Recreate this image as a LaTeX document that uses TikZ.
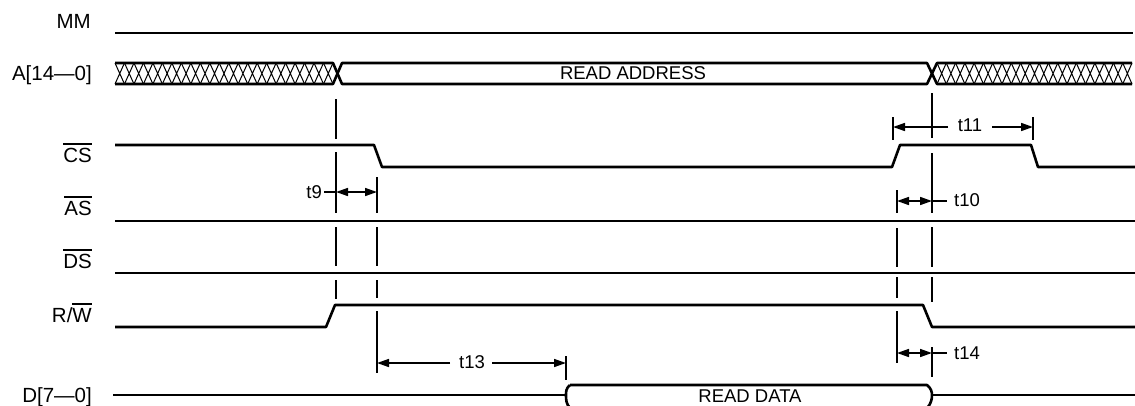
\documentclass[tikz,border=0pt]{standalone}
\usepackage{fontspec}
\setmainfont{Liberation Sans}
\usetikzlibrary{arrows.meta}
\newcommand\myovl[1]{\leavevmode\vbox{\hrule height 1.7pt \kern 3pt \hbox{#1}}}
\begin{document}
\begin{tikzpicture}[x=1pt,y=-1pt,
  sig/.style={line width=2.6pt, line join=round},
  hatchln/.style={line width=1pt},
  guide/.style={line width=1.9pt},
  dim/.style={line width=1.6pt},
  tipE/.style={-{Triangle[length=12pt,width=8pt]}},
  tipB/.style={{Triangle[length=12pt,width=8pt]}-{Triangle[length=12pt,width=8pt]}},
  lbl/.style={anchor=base east, inner sep=0pt, font=\fontsize{20.5}{23}\selectfont},
  txt/.style={inner sep=0pt, font=\fontsize{18.5}{21}\selectfont}]
\useasboundingbox (0,0) rectangle (1135,405);

% signal names
\node[lbl] (lMM) at (91,28) {MM};
\node[lbl] (lA)  at (92,80) {A[14—0]};
\node[lbl] (lCS) at (92,162) {\myovl{CS}};
\node[lbl] (lAS) at (92,215) {\myovl{AS}};
\node[lbl] (lDS) at (92,268) {\myovl{DS}};
\node[lbl] (lRW) at (92,322) {R/\myovl{W}};
\node[lbl] (lD)  at (92,402) {D[7—0]};

% MM
\draw[sig] (115,33) -- (1133,33);

% A bus
\foreach \i in {0,...,22} {
  \draw[hatchln] ({115+\i*9.478},63) -- ({115+(\i+1)*9.478},84)
                 ({115+\i*9.478},84) -- ({115+(\i+1)*9.478},63);
}
\foreach \i in {0,...,20} {
  \draw[hatchln] ({937+\i*9.286},63) -- ({937+(\i+1)*9.286},84)
                 ({937+\i*9.286},84) -- ({937+(\i+1)*9.286},63);
}
\draw[sig] (115,63) -- (333,63) -- (342,84) -- (927,84) -- (937,63) -- (1132,63);
\draw[sig] (115,84) -- (333,84) -- (342,63) -- (927,63) -- (937,84) -- (1132,84);
\node[txt] (rA) at (633,73) {READ ADDRESS};

% CS
\draw[sig] (115,145) -- (374,145) -- (382,167) -- (892,167) -- (900,145)
           -- (1031,145) -- (1038,167) -- (1135,167);
% AS, DS
\draw[sig] (115,221) -- (1135,221);
\draw[sig] (115,273) -- (1135,273);
% R/W
\draw[sig] (115,327) -- (326,327) -- (335,305) -- (923,305) -- (932,327) -- (1135,327);

% D bus
\draw[sig] (113,395) -- (566,395);
\draw[sig] (570,385) .. controls (566,388) and (566,392) .. (566,395)
           .. controls (566,399) and (566,404) .. (570,408);
\draw[sig] (570,385) -- (927,385) .. controls (931,388) and (932,392) .. (932,395)
           .. controls (932,399) and (931,404) .. (927,408);
\draw[sig] (932,395) -- (1135,395);
\node[txt] (rD) at (750,396) {READ DATA};

% guide lines
\draw[guide] (336,99)--(336,139) (336,152)--(336,213) (336,227)--(336,266) (336,280)--(336,299);
\draw[guide] (377,177)--(377,213) (377,227)--(377,266) (377,280)--(377,298) (377,311)--(377,373);
\draw[guide] (897,190)--(897,213) (897,228)--(897,267) (897,277)--(897,298) (897,311)--(897,363);
\draw[guide] (932,93)--(932,138) (932,153)--(932,213) (932,227)--(932,267) (932,277)--(932,302) (932,347)--(932,377);
\draw[guide] (893,117)--(893,140) (1033,117)--(1033,140);
\draw[guide] (566,356)--(566,380);

% t9
\node[txt, anchor=east] (t9) at (322,192) {t9};
\draw[dim] (t9.east)++(2,0) -- (336,192);
\draw[dim, tipB] (336,192) -- (377,192);
% t11
\node[txt] (t11) at (970,125) {t11};
\draw[dim, tipE] (948,127) -- (893,127);
\draw[dim, tipE] (992,127) -- (1033,127);
% t10
\node[txt, anchor=west] (t10) at (954,200) {t10};
\draw[dim, tipB] (897,201) -- (932,201);
\draw[dim] (932,201) -- (947,201);
% t13
\node[txt] (t13) at (472,362) {t13};
\draw[dim, tipE] (450,363) -- (377,363);
\draw[dim, tipE] (492,363) -- (566,363);
% t14
\node[txt, anchor=west] (t14) at (954,353) {t14};
\draw[dim, tipB] (897,353) -- (932,353);
\draw[dim] (932,353) -- (947,353);
\end{tikzpicture}
\end{document}
